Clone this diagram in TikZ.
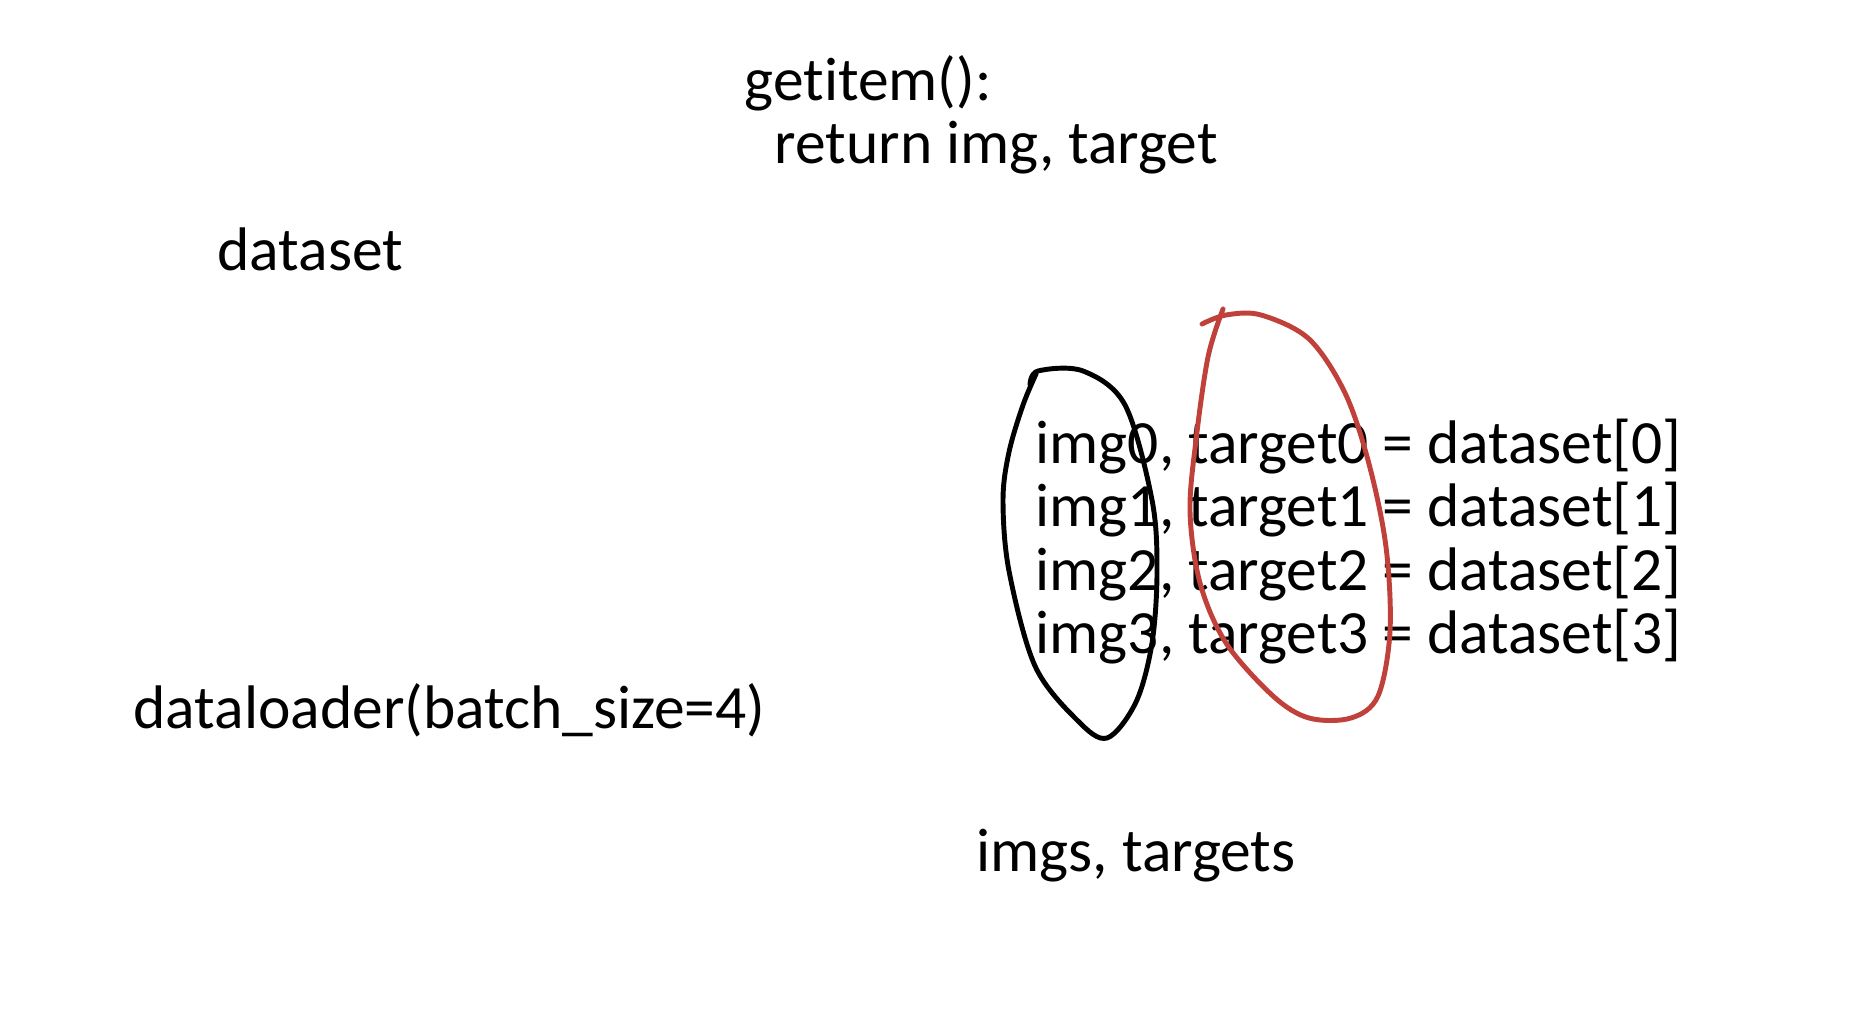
\documentclass[tikz,border=0pt]{standalone}
\usepackage{fontspec}
\setmainfont{Carlito}[Ligatures={NoCommon}]
\definecolor{penred}{RGB}{192,64,58}
\tikzset{
  code/.style={anchor=base west, inner sep=0pt, font=\fontsize{17.5}{21}\selectfont},
  pen/.style={line width=1.4pt, line cap=round, line join=round}
}
\begin{document}
\begin{tikzpicture}
  \useasboundingbox (0,0) rectangle (18.66,-10.34);
  \node[code] (get) at (7.44,-1.01) {getitem():};
  \node[code] (ret) at (7.74,-1.64) {return img, target};
  \node[code] (ds) at (2.17,-2.71) {dataset};
  \node[code] (dl) at (1.33,-7.28) {dataloader(batch\_size=4)};
  \foreach \i in {0,...,3}
    \node[code] (row\i) at (10.35,-4.63-\i*0.635) {img\i, target\i{} = dataset[\i]};
  \node[code] (out) at (9.76,-8.71) {imgs, targets};

  % batch of imgs
  \draw[pen] plot[smooth, tension=0.55] coordinates {(10.30,-3.85) (10.38,-3.71) (10.83,-3.71)
    (11.25,-4.05) (11.52,-5.00) (11.57,-5.71) (11.52,-6.43) (11.36,-7.02) (11.07,-7.38)
    (10.77,-7.20) (10.35,-6.66) (10.09,-5.71) (10.03,-5.00) (10.09,-4.52) (10.23,-4.05) (10.36,-3.74)};
  % batch of targets
  \draw[pen, penred] plot[smooth, tension=0.55] coordinates {(12.23,-3.09) (12.08,-3.57) (11.96,-4.40)
    (11.90,-5.12) (12.00,-5.83) (12.26,-6.43) (12.73,-6.96) (13.09,-7.18) (13.51,-7.18) (13.78,-6.96)
    (13.90,-6.31) (13.86,-5.47) (13.69,-4.64) (13.45,-3.93) (13.09,-3.39) (12.61,-3.15) (12.26,-3.15) (12.02,-3.24)};
\end{tikzpicture}
\end{document}
